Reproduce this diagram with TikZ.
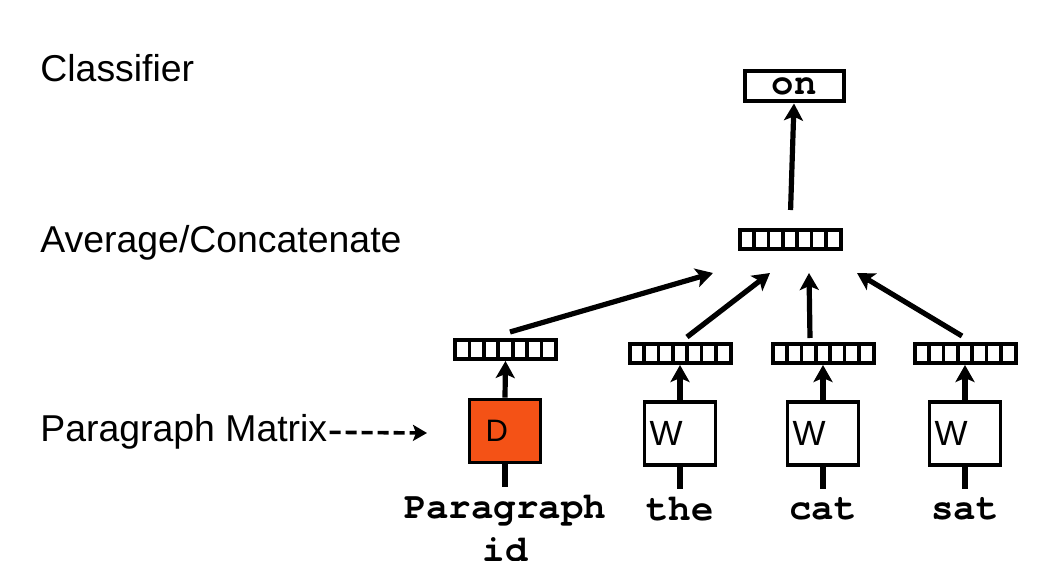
\documentclass[tikz,border=0pt]{standalone}
\usepackage{fontspec}
\setmainfont{Liberation Sans}
\newfontfamily\wordfont{TeX Gyre Cursor}
\usetikzlibrary{arrows.meta}
\definecolor{dorange}{RGB}{244,82,22}

\begin{document}
\begin{tikzpicture}[x=0.5pt,y=-0.5pt,
  lbl/.style={anchor=base west,inner sep=0pt,font=\fontsize{18.7}{22}\selectfont},
  word/.style={anchor=north,inner xsep=0pt,inner ysep=4pt,align=center,
    font=\wordfont\bfseries\fontsize{18.7}{21.5}\selectfont},
  vec/.style={draw,line width=2pt,minimum width=50.5pt,minimum height=9.5pt,inner sep=0pt,
    path picture={\foreach \k in {1,...,6}
      \draw[line width=1.8pt] ([xshift=\k*7.214pt]path picture bounding box.south west)
        -- ([xshift=\k*7.214pt]path picture bounding box.north west);}},
  wbox/.style={draw,line width=1.9pt,minimum width=35.5pt,minimum height=31.5pt,
    inner xsep=2.5pt,inner ysep=0pt,text width=30.5pt,align=left,font=\fontsize{17.5}{20}\selectfont},
  feed/.style={line width=2.6pt,-{Stealth[length=8.5pt,width=9.5pt,inset=2pt]}},
  stub/.style={line width=2.6pt}]
  \useasboundingbox[fill=white] (0,0) rectangle (1046,561);

  % layer names on the left
  \node[lbl] (cls) at (40,82) {Classifier};
  \node[lbl] (avglbl) at (40,253) {Average/Concatenate};
  \node[lbl] (pm) at (40,442) {Paragraph Matrix};
  \coordinate (pmtip) at (427,433);
  \draw[line width=1.8pt,dash pattern=on 5.5pt off 2.5pt,-{Stealth[length=7pt,width=8pt,inset=1.5pt]}]
    ([xshift=1pt]pm.east) -- (pmtip);

  % paragraph column
  \node[wbox,fill=dorange] (dbox) at (505,431) {\fontsize{15.5}{18}\selectfont\hspace*{5.5pt}D};
  \node[vec] (dvec) at (505.5,349.5) {};
  \node[word] (pword) at (505,487) {Paragraph\\id};
  \draw[stub] (dbox.south) -- (pword.north);
  \draw[feed] (dbox.north) -- (dvec.south);

  % word columns
  \foreach \n/\x in {the/680,cat/823,sat/965} {
    \node[wbox] (box\n) at (\x,433.5) {W};
    \node[vec] (vec\n) at (\x,353.5) {};
    \node[word] (w\n) at (\x,489) {\n};
    \draw[stub] (box\n.south) -- (w\n.north);
    \draw[feed] (box\n.north) -- (vec\n.south);
  }

  % average and classifier
  \node[vec] (avg) at (790,239.5) {};
  \node[draw,line width=2pt,minimum width=49.5pt,minimum height=15pt,inner sep=0pt,
    font=\wordfont\bfseries\fontsize{18.7}{22}\selectfont] (on) at (794,86.5) {on};
  \draw[feed,shorten <=9pt] (avg.north) -- (on.south);

  \coordinate (tipD) at (713,273);
  \coordinate (tipthe) at (770,273);
  \coordinate (tipcat) at (809,273);
  \coordinate (tipsat) at (857,273);
  \draw[feed] ([xshift=2.25pt,yshift=3pt]dvec.north) -- (tipD);
  \draw[feed] ([xshift=3.5pt,yshift=2.5pt]vecthe.north) -- (tipthe);
  \draw[feed] ([xshift=-6.5pt,yshift=2pt]veccat.north) -- (tipcat);
  \draw[feed] ([xshift=-1.5pt,yshift=3pt]vecsat.north) -- (tipsat);
\end{tikzpicture}
\end{document}
